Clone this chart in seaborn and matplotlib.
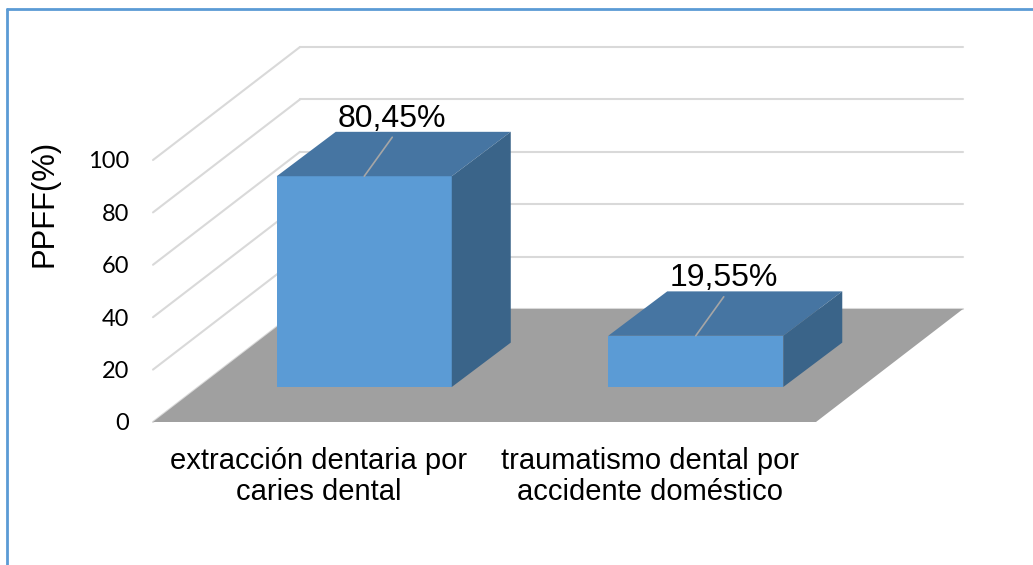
import textwrap
import matplotlib
matplotlib.use("Agg")
import matplotlib.pyplot as plt
from matplotlib.patches import Polygon
from matplotlib.lines import Line2D
import seaborn as sns

# ---- data ----
categories = ["extracción dentaria por caries dental",
              "traumatismo dental por accidente doméstico"]
values = [80.45, 19.55]
value_labels = ["80,45%", "19,55%"]
y_ticks = [0, 20, 40, 60, 80, 100]
y_label = "PPFF(%)"

# ---- style ----
sns.set_style("white")
plt.rcParams["font.family"] = ["Liberation Sans", "DejaVu Sans"]

FRONT = "#5B9BD5"
TOP = "#4675A2"
SIDE = "#3A6489"
FLOOR = "#A0A0A0"
GRID = "#D9D9D9"
BORDER = "#5B9BD5"

W, H, DPI = 1033, 565, 100
fig = plt.figure(figsize=(W / DPI, H / DPI), dpi=DPI)
fig.patch.set_facecolor("white")

# axes frame (front plane) in pixels
AX_L, AX_R, AX_T, AX_B = 153, 816, 160, 422
ax = fig.add_axes([AX_L / W, 1 - AX_B / H, (AX_R - AX_L) / W, (AX_B - AX_T) / H])
ax.patch.set_alpha(0)

XMIN, XMAX = -0.5, len(categories) - 0.5
YMIN, YMAX = y_ticks[0], y_ticks[-1]
sx = (AX_R - AX_L) / (XMAX - XMIN)
sy = (AX_B - AX_T) / (YMAX - YMIN)

# oblique depth offsets (pixels -> data units)
DX, DY = 147 / sx, 113 / sy                # full depth of the box
FX, FY = 45.5 / sx, 35 / sy                # front of bars
BX, BY = 59 / sx, 44.4 / sy                # bar depth

# bars (front faces) via seaborn
sns.barplot(x=categories, y=values, color=FRONT, saturation=1, width=0.528,
            ax=ax, zorder=3)
bars = list(ax.containers[0])

# back walls gridlines
for t in y_ticks:
    ax.add_line(Line2D([XMIN, XMIN + DX], [t, t + DY], color=GRID, lw=1.5,
                       clip_on=False, zorder=1))
    ax.add_line(Line2D([XMIN + DX, XMAX + DX], [t + DY, t + DY], color=GRID,
                       lw=1.5, clip_on=False, zorder=1))

# floor
ax.add_patch(Polygon([(XMIN, YMIN), (XMAX, YMIN), (XMAX + DX, YMIN + DY),
                      (XMIN + DX, YMIN + DY)], closed=True, facecolor=FLOOR,
                     edgecolor="none", clip_on=False, zorder=1.5))

for p, lbl in zip(bars, value_labels):
    x0 = p.get_x() + FX
    w = p.get_width()
    h = p.get_height()
    y0 = FY
    p.set_x(x0)
    p.set_y(y0)
    p.set_edgecolor("none")
    p.set_clip_on(False)
    x1, y1 = x0 + w, y0 + h
    ax.add_patch(Polygon([(x0, y1), (x1, y1), (x1 + BX, y1 + BY), (x0 + BX, y1 + BY)],
                         closed=True, facecolor=TOP, edgecolor="none",
                         clip_on=False, zorder=3))
    ax.add_patch(Polygon([(x1, y0), (x1, y1), (x1 + BX, y1 + BY), (x1 + BX, y0 + BY)],
                         closed=True, facecolor=SIDE, edgecolor="none",
                         clip_on=False, zorder=3))
    cx = x0 + w / 2
    ax.annotate("", xy=(cx, y1), xytext=(28, 39), textcoords="offset pixels",
                arrowprops=dict(arrowstyle="-", color="#A6A6A6", lw=1.2,
                                shrinkA=0, shrinkB=0), zorder=5)
    ax.annotate(lbl, xy=(cx, y1), xytext=(28, 49.5), textcoords="offset pixels",
                ha="center", va="baseline", fontsize=23, color="black", zorder=5)

ax.set_xlim(XMIN, XMAX)
ax.set_ylim(YMIN, YMAX)
ax.set_xlabel("")
ax.set_ylabel("")
ax.set_yticks(y_ticks)
ax.set_yticklabels([str(t) for t in y_ticks], fontsize=17,
                   family=["Lato", "DejaVu Sans"], color="black")
ax.set_xticks(range(len(categories)))
ax.set_xticklabels([textwrap.fill(c, 23) for c in categories], fontsize=21,
                   color="black", linespacing=1.13)
ax.tick_params(axis="y", length=0, pad=17)
ax.tick_params(axis="x", length=0, pad=18)
ax.grid(False)
for s in ax.spines.values():
    s.set_visible(False)

fig.text(44.5 / W, 1 - 203 / H, y_label, rotation=90, ha="center", va="center",
         fontsize=22.3, color="black")

# chart border
fig.add_artist(Line2D([6.5 / W, 6.5 / W], [0, 1 - 8.5 / H], transform=fig.transFigure,
                      color=BORDER, lw=2))
fig.add_artist(Line2D([6.5 / W, 1], [1 - 8.5 / H, 1 - 8.5 / H], transform=fig.transFigure,
                      color=BORDER, lw=2))

fig.savefig("out.png", dpi=DPI)
